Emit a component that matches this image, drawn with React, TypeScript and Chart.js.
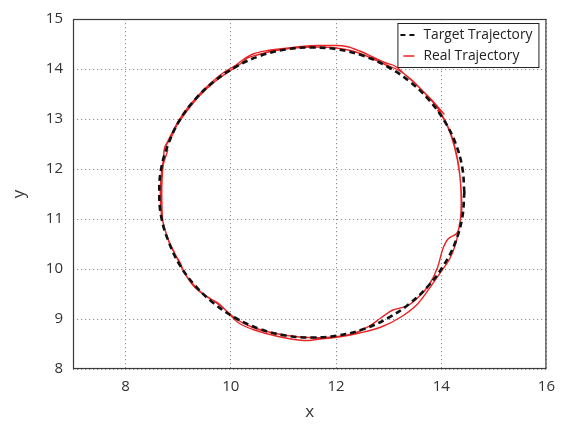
import React, { useEffect, useRef } from "react";
import { Chart, registerables } from "chart.js";

Chart.register(...registerables);

const xTicks = [8, 10, 12, 14, 16];
const yTicks = [8, 9, 10, 11, 12, 13, 14, 15];
const xRange = [7, 16];
const yRange = [8, 15];
const seriesLabels = ["Target Trajectory", "Real Trajectory"];
const axisTitles = ["x", "y"];

const targetX = [
  14.44, 14.4, 14.27, 14.05, 13.76, 13.4, 12.99, 12.53, 12.04, 11.54, 11.04, 10.55,
  10.09, 9.68, 9.32, 9.03, 8.82, 8.68, 8.64, 8.68, 8.82, 9.03, 9.32, 9.68,
  10.09, 10.55, 11.04, 11.54, 12.04, 12.53, 12.99, 13.4, 13.76, 14.05, 14.27, 14.4, 14.44,
];
const targetY = [
  11.53, 12.03, 12.52, 12.98, 13.39, 13.75, 14.04, 14.26, 14.39, 14.43, 14.39, 14.26,
  14.04, 13.75, 13.39, 12.98, 12.52, 12.03, 11.53, 11.03, 10.54, 10.08, 9.67, 9.31,
  9.02, 8.8, 8.67, 8.63, 8.67, 8.8, 9.02, 9.31, 9.67, 10.08, 10.54, 11.03, 11.53,
];

const realX = [
  14.06, 13.82, 13.55, 13.3, 13.12, 12.95, 12.7, 12.45, 12.2, 11.95, 11.65, 11.35,
  11.0, 10.7, 10.42, 10.25, 10.1, 9.85, 9.58, 9.32, 9.08, 8.92, 8.8, 8.74,
  8.72, 8.68, 8.66, 8.68, 8.74, 8.86, 9.04, 9.12, 9.3, 9.55, 9.78, 9.95,
  10.15, 10.45, 10.9, 11.38, 11.7, 12.05, 12.45, 12.88, 13.25, 13.55, 13.82, 14.0,
  14.16, 14.28, 14.34, 14.39, 14.37, 14.31, 14.18, 13.97,
  13.72, 13.42, 13.18, 12.95, 12.69, 12.35, 12.0, 11.6, 11.2, 10.8, 10.5, 10.32,
  10.18, 9.98, 9.7, 9.42, 9.18, 8.98, 8.86, 8.77, 8.8, 8.72, 8.69, 8.69,
  8.71, 8.8, 8.94, 9.07, 9.2, 9.42, 9.65, 9.9, 10.1, 10.4, 10.8, 11.3,
  11.8, 12.3, 12.62, 12.85, 13.08, 13.35, 13.58, 13.78, 13.93, 14.03, 14.13, 14.3,
  14.36, 14.38, 14.35, 14.25, 14.1, 13.93,
];
const realY = [
  13.09, 13.38, 13.66, 13.9, 14.06, 14.12, 14.24, 14.36, 14.45, 14.47, 14.47, 14.45,
  14.41, 14.37, 14.3, 14.2, 14.08, 13.92, 13.68, 13.4, 13.08, 12.8, 12.55, 12.42,
  12.2, 11.9, 11.5, 11.1, 10.82, 10.45, 10.12, 9.92, 9.65, 9.44, 9.3, 9.12,
  8.92, 8.78, 8.65, 8.57, 8.6, 8.64, 8.72, 8.85, 9.05, 9.3, 9.68, 9.95,
  10.2, 10.52, 10.85, 11.2, 11.7, 12.2, 12.72, 13.16,
  13.48, 13.8, 13.98, 14.08, 14.21, 14.35, 14.42, 14.44, 14.42, 14.36, 14.28, 14.22,
  14.1, 13.96, 13.75, 13.48, 13.18, 12.88, 12.62, 12.46, 12.38, 12.1, 11.7, 11.3,
  10.95, 10.62, 10.3, 10.02, 9.8, 9.55, 9.38, 9.18, 9.0, 8.84, 8.72, 8.64,
  8.63, 8.7, 8.85, 9.02, 9.18, 9.26, 9.45, 9.7, 10.03, 10.4, 10.6, 10.72,
  10.95, 11.35, 11.9, 12.45, 12.9, 13.18,
];

const FONT = "'Open Sans', 'DejaVu Sans', sans-serif";
const TEXT = "#333333";
const RED = "rgb(232, 36, 38)";

const framePlugin = {
  id: "frameAndLegend",
  afterDraw(chart: any) {
    const ctx = chart.ctx as CanvasRenderingContext2D;
    const { left, top, right, bottom } = chart.chartArea;
    ctx.save();
    ctx.strokeStyle = "#3a3a3a";
    ctx.lineWidth = 1.2;
    ctx.setLineDash([]);
    ctx.strokeRect(left + 0.5, top + 0.5, right - left - 1, bottom - top - 1);

    // legend box
    const bw = 141;
    const bh = 44;
    const bx = right - 8 - bw;
    const by = top + 4;
    ctx.fillStyle = "#ffffff";
    ctx.fillRect(bx, by, bw, bh);
    ctx.strokeStyle = "#222222";
    ctx.lineWidth = 1;
    ctx.strokeRect(bx + 0.5, by + 0.5, bw, bh);

    const y1 = by + 12;
    const y2 = by + 33;
    ctx.lineWidth = 2;
    ctx.strokeStyle = "#111111";
    ctx.setLineDash([5, 4]);
    ctx.beginPath();
    ctx.moveTo(bx + 3, y1);
    ctx.lineTo(bx + 17, y1);
    ctx.stroke();
    ctx.setLineDash([]);
    ctx.strokeStyle = RED;
    ctx.lineWidth = 1.5;
    ctx.beginPath();
    ctx.moveTo(bx + 6, y2);
    ctx.lineTo(bx + 17, y2);
    ctx.stroke();

    ctx.fillStyle = "#222222";
    ctx.font = `14px ${FONT}`;
    ctx.textBaseline = "middle";
    ctx.textAlign = "left";
    ctx.fillText(seriesLabels[0], bx + 26, y1, 109);
    ctx.fillText(seriesLabels[1], bx + 26, y2, 96);
    ctx.restore();
  },
};

export default function App() {
  const canvasRef = useRef<HTMLCanvasElement | null>(null);

  useEffect(() => {
    if (!canvasRef.current) return;
    const target = targetX.map((x, i) => ({ x, y: targetY[i] }));
    const real = realX.map((x, i) => ({ x, y: realY[i] }));

    const chart = new Chart(canvasRef.current, {
      type: "scatter",
      data: {
        datasets: [
          {
            label: seriesLabels[0],
            data: target,
            showLine: true,
            borderColor: "#111111",
            borderWidth: 2.6,
            borderDash: [6, 4],
            pointRadius: 0,
            tension: 0.4,
            fill: false,
          },
          {
            label: seriesLabels[1],
            data: real,
            showLine: true,
            borderColor: RED,
            borderWidth: 1.4,
            pointRadius: 0,
            tension: 0.35,
            fill: false,
          },
        ],
      },
      options: {
        animation: false,
        responsive: true,
        maintainAspectRatio: false,
        layout: { padding: { top: 15, right: 9, left: 0, bottom: 0 } },
        plugins: {
          legend: { display: false },
          tooltip: { enabled: false },
        },
        scales: {
          x: {
            type: "linear",
            min: xRange[0],
            max: xRange[1],
            afterBuildTicks: (s: any) => {
              s.ticks = xTicks.map((v) => ({ value: v }));
            },
            afterFit: (s: any) => {
              s.height = 58;
            },
            grid: { color: "#8f8f8f", lineWidth: 1, drawTicks: false },
            border: { display: false, dash: [1.2, 2.8] },
            ticks: { padding: 9, color: TEXT, font: { size: 15, family: FONT } },
            title: {
              display: true,
              text: axisTitles[0],
              color: TEXT,
              font: { size: 17, family: FONT },
              padding: { top: 0, bottom: 5 },
            },
          },
          y: {
            type: "linear",
            min: yRange[0],
            max: yRange[1],
            afterBuildTicks: (s: any) => {
              s.ticks = yTicks.map((v) => ({ value: v }));
            },
            afterFit: (s: any) => {
              s.width = 73;
            },
            grid: { color: "#8f8f8f", lineWidth: 1, drawTicks: false },
            border: { display: false, dash: [1.2, 2.8] },
            ticks: { padding: 10, color: TEXT, font: { size: 15, family: FONT } },
            title: {
              display: true,
              text: axisTitles[1],
              color: TEXT,
              font: { size: 17, family: FONT },
              padding: { top: 9, bottom: 0 },
            },
          },
        },
      },
      plugins: [framePlugin],
    });
    return () => chart.destroy();
  }, []);

  return (
    <div
      style={{
        position: "absolute",
        left: 0,
        top: 0,
        width: 564,
        height: 427,
        background: "#ffffff",
      }}
    >
      <canvas ref={canvasRef} />
    </div>
  );
}
